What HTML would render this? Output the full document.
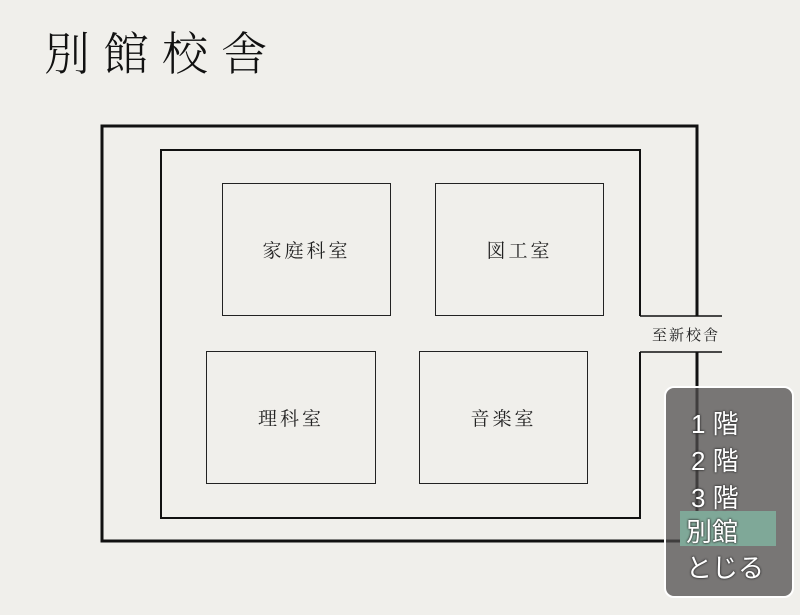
<!DOCTYPE html>
<html><head><meta charset="utf-8"><style>
body{margin:0;width:800px;height:615px;background:#f0efeb;overflow:hidden;position:relative;font-family:"Liberation Serif","Noto Serif CJK SC",serif}
.t{position:absolute;left:44px;top:18px;font-size:46px;letter-spacing:13px;color:#111;font-weight:300}
.r{position:absolute;border:1.5px solid #222;box-sizing:border-box;display:flex;align-items:center;justify-content:center;font-size:19px;letter-spacing:3px;color:#222}
.menu{position:absolute;left:664px;top:386px;width:130px;height:212px;border:2px solid #fff;border-radius:10px;background:rgba(80,78,78,0.75);box-sizing:border-box}
.mi{position:absolute;left:25px;font-family:"Liberation Sans","Noto Sans CJK JP",sans-serif;font-size:26px;color:#fff;text-shadow:0 0 2px #333,0 0 2px #333}
</style></head><body>
<div class="t">別館校舎</div>
<svg width="800" height="615" style="position:absolute;left:0;top:0">
<g fill="none" stroke="#111">
<polyline stroke-width="3" points="697,316 697,126 102,126 102,541 697,541 697,352"/>
<polyline stroke-width="2" points="640,316 640,150 161,150 161,518 640,518 640,352"/>
<line x1="640" y1="316" x2="722" y2="316" stroke-width="1.5"/>
<line x1="640" y1="352" x2="722" y2="352" stroke-width="1.5"/>
</g>
<text x="652" y="340" font-size="15" letter-spacing="2" fill="#222" font-family="Liberation Serif,Noto Serif CJK SC,serif">至新校舎</text>
</svg>
<div class="r" style="left:222px;top:183px;width:169px;height:133px">家庭科室</div>
<div class="r" style="left:435px;top:183px;width:169px;height:133px">図工室</div>
<div class="r" style="left:206px;top:351px;width:170px;height:133px">理科室</div>
<div class="r" style="left:419px;top:351px;width:169px;height:133px">音楽室</div>
<div class="menu">
<div style="position:absolute;left:14px;top:123px;width:96px;height:35px;background:#7fa898"></div>
<div class="mi" style="top:16px">1 階</div>
<div class="mi" style="top:53px">2 階</div>
<div class="mi" style="top:90px">3 階</div>
<div class="mi" style="top:124px;left:20px">別館</div>
<div class="mi" style="top:160px;left:20px">とじる</div>
</div>
</body></html>
